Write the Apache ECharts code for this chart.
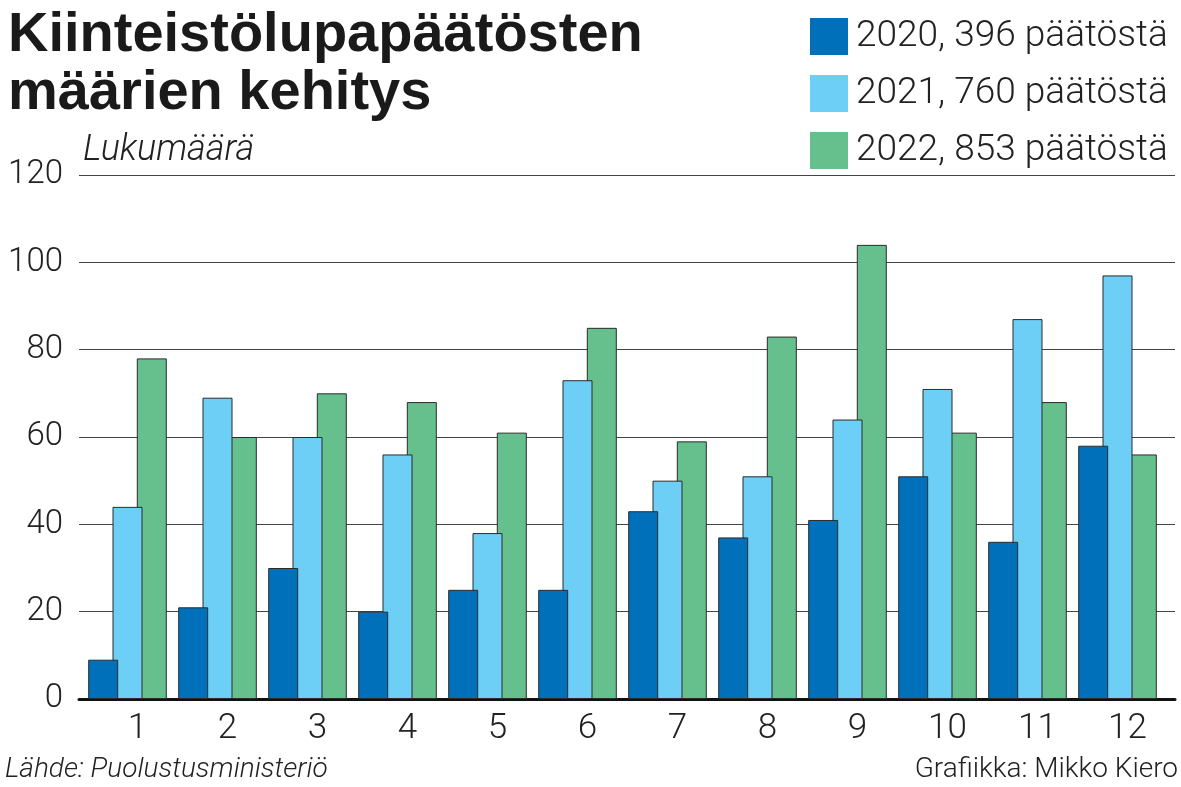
<!DOCTYPE html>
<html>
<head>
<meta charset="utf-8">
<script src="https://cdn.jsdelivr.net/npm/echarts@6/dist/echarts.min.js"></script>
<style>
  html, body { margin: 0; padding: 0; background: #fff; }
  #main { width: 1181px; height: 787px; }
</style>
</head>
<body>
<div id="main"></div>
<script>
// kuukaudet ja päätökset vuosittain
var months = ['1', '2', '3', '4', '5', '6', '7', '8', '9', '10', '11', '12'];
var years = ['2020', '2021', '2022'];
var values2020 = [9, 21, 30, 20, 25, 25, 43, 37, 41, 51, 36, 58];
var values2021 = [44, 69, 60, 56, 38, 73, 50, 51, 64, 71, 87, 97];
var values2022 = [78, 60, 70, 68, 61, 85, 59, 83, 104, 61, 68, 56];
var yTicks = [0, 20, 40, 60, 80, 100, 120];

var colors = ['#0070ba', '#6dcff6', '#66c08d'];
var lightFont = 'Roboto';
var allValues = [values2020, values2021, values2022];

function sum(arr) {
    return arr.reduce(function (a, b) { return a + b; }, 0);
}
var totals = {};
years.forEach(function (y, i) { totals[y] = sum(allValues[i]); });

var myChart = echarts.init(document.getElementById('main'));

var series = years.map(function (y, i) {
    return {
        name: y,
        type: 'bar',
        xAxisIndex: 0,
        yAxisIndex: 0,
        data: allValues[i],
        barWidth: 30,
        barGap: '-19%',
        z: 4 - i,
        itemStyle: { color: colors[i], borderColor: '#2b2b2b', borderWidth: 1 }
    };
});

myChart.setOption({
    animation: false,
    backgroundColor: '#fff',
    title: [{
        text: 'Kiinteistölupapäätösten\nmäärien kehitys',
        left: 3, top: 2,
        textStyle: {
            fontFamily: 'Liberation Sans', fontWeight: 'bold',
            fontSize: 56, lineHeight: 58, color: '#1a1a1a'
        }
    }],
    legend: {
        data: years,
        orient: 'vertical',
        left: 805, top: 13,
        itemWidth: 38, itemHeight: 37, itemGap: 20,
        icon: 'rect',
        itemStyle: { borderWidth: 0 },
        formatter: function (name) { return name + ', ' + totals[name] + ' päätöstä'; },
        textStyle: { fontFamily: lightFont, fontWeight: 300, fontSize: 37, color: '#222', padding: [0, 0, 0, 3] }
    },
    grid: [
        { left: 82.5, right: 18.5, top: 175, bottom: 88 },
        { left: 79, right: 6, top: 175, bottom: 88 }
    ],
    xAxis: [{
        type: 'category',
        gridIndex: 0,
        data: months,
        axisLine: { show: false },
        axisTick: { show: false },
        axisLabel: {
            fontFamily: lightFont, fontWeight: 300, fontSize: 35, color: '#222',
            margin: 13, padding: [0, 0, 0, 20]
        }
    }, {
        type: 'value',
        gridIndex: 1,
        min: 0, max: 1,
        axisLine: { show: true, onZero: false, lineStyle: { color: '#111', width: 3 } },
        axisTick: { show: false },
        axisLabel: { show: false },
        splitLine: { show: false }
    }],
    yAxis: [{
        type: 'value',
        gridIndex: 0,
        min: 0, max: 120,
        show: false
    }, {
        type: 'value',
        gridIndex: 1,
        min: yTicks[0], max: yTicks[yTicks.length - 1], interval: 20,
        axisLine: { show: false },
        axisTick: { show: false },
        axisLabel: {
            fontFamily: lightFont, fontWeight: 300, fontSize: 33, color: '#222', margin: 16
        },
        splitLine: { lineStyle: { color: '#444', width: 1 } }
    }],
    graphic: [{
        type: 'text', left: 83, top: 133,
        style: { text: 'Lukumäärä', fontFamily: lightFont, fontWeight: 300, fontStyle: 'italic', fontSize: 36, fill: '#222' }
    }, {
        type: 'text', left: 5, top: 756,
        style: { text: 'Lähde: Puolustusministeriö', fontFamily: lightFont, fontWeight: 300, fontStyle: 'italic', fontSize: 28, fill: '#222' }
    }, {
        type: 'text', right: 3, top: 756,
        style: { text: 'Grafiikka: Mikko Kiero', fontFamily: lightFont, fontWeight: 300, fontSize: 28, fill: '#222' }
    }],
    series: series
});
</script>
</body>
</html>
